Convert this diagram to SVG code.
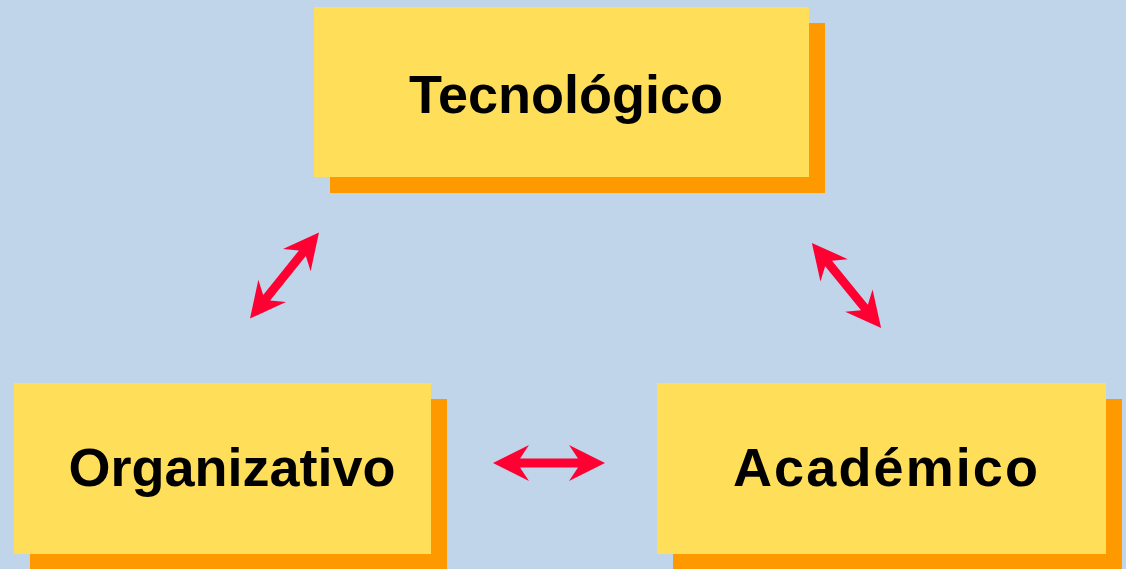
<svg xmlns="http://www.w3.org/2000/svg" xmlns:xlink="http://www.w3.org/1999/xlink" width="1126" height="569" viewBox="0 0 1126 569">
<style>
.shadow{fill:#FF9900}
.box{fill:#FFDE59}
.lbl{font-family:"Liberation Sans",Arial,sans-serif;font-weight:bold;font-size:54px;fill:#000;text-anchor:middle}
.arr{fill:#FF0033}
</style>
<defs>
<path id="dbl" d="M-56,0 L-20,-18 L-29,-4.5 L29,-4.5 L20,-18 L56,0 L20,18 L29,4.5 L-29,4.5 L-20,18 Z"/>
</defs>
<rect width="1126" height="569" fill="#C0D5EA"/>
<g id="tecnologico">
<rect class="shadow" x="330" y="23" width="495" height="170"/>
<rect class="box" x="314" y="7" width="495" height="170"/>
<text class="lbl" x="566" y="113">Tecnológico</text>
</g>
<g id="organizativo">
<rect class="shadow" x="30" y="399" width="417" height="171"/>
<rect class="box" x="14" y="383" width="417" height="171"/>
<text class="lbl" x="232" y="486">Organizativo</text>
</g>
<g id="academico">
<rect class="shadow" x="673" y="399" width="449" height="171"/>
<rect class="box" x="657" y="383" width="449" height="171"/>
<text class="lbl" x="885.5" y="486" textLength="305" lengthAdjust="spacing">Académico</text>
</g>
<g id="connectors" class="arr">
<use xlink:href="#dbl" transform="translate(284.5,275.5) rotate(-51.3) scale(0.985)"/>
<use xlink:href="#dbl" transform="translate(846.5,285.5) rotate(50.9) scale(0.98)"/>
<use xlink:href="#dbl" transform="translate(549,463)"/>
</g>
</svg>
